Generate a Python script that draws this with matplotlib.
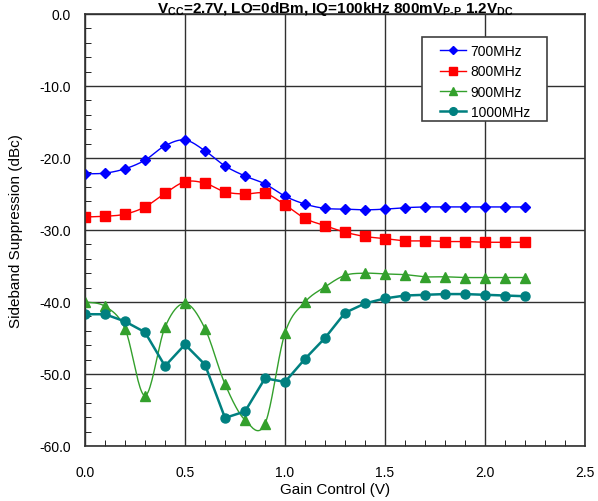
import numpy as np
import matplotlib
matplotlib.use("Agg")
import matplotlib.pyplot as plt
from matplotlib.patches import Rectangle
from matplotlib.ticker import MultipleLocator

plt.rcParams['font.family'] = ['Liberation Sans', 'DejaVu Sans']
plt.rcParams['mathtext.fontset'] = 'custom'
plt.rcParams['mathtext.rm'] = 'Liberation Sans'
plt.rcParams['mathtext.bf'] = 'Liberation Sans:bold'

# gain control (V)
gain = [0.0, 0.1, 0.2, 0.3, 0.4, 0.5, 0.6, 0.7, 0.8, 0.9, 1.0, 1.1,
        1.2, 1.3, 1.4, 1.5, 1.6, 1.7, 1.8, 1.9, 2.0, 2.1, 2.2]

# sideband suppression (dBc)
s700 = [-22.2, -22.1, -21.5, -20.3, -18.3, -17.5, -19.0, -21.1, -22.5, -23.6, -25.3, -26.4,
        -27.0, -27.1, -27.2, -27.1, -26.9, -26.8, -26.8, -26.8, -26.8, -26.8, -26.8]
s800 = [-28.2, -28.1, -27.8, -26.8, -24.9, -23.3, -23.5, -24.7, -25.0, -24.9, -26.5, -28.4,
        -29.4, -30.3, -30.9, -31.2, -31.5, -31.5, -31.6, -31.6, -31.7, -31.7, -31.7]
s900 = [-40.0, -40.6, -43.7, -53.0, -43.5, -40.2, -43.7, -51.4, -56.4, -56.9, -44.3, -40.0,
        -37.9, -36.3, -36.0, -36.1, -36.2, -36.5, -36.5, -36.6, -36.6, -36.6, -36.6]
s1000 = [-41.7, -41.7, -42.7, -44.2, -48.9, -45.9, -48.7, -56.1, -55.2, -50.6, -51.1, -47.9,
         -45.0, -41.5, -40.2, -39.5, -39.1, -39.0, -38.9, -38.9, -39.0, -39.1, -39.2]

labels = ["700MHz", "800MHz", "900MHz", "1000MHz"]


def smooth(x, y, n=20):
    # catmull-rom curve through the points, like a smoothed spreadsheet line
    x = np.asarray(x, float)
    y = np.asarray(y, float)
    px = np.concatenate([[x[0]], x, [x[-1]]])
    py = np.concatenate([[y[0]], y, [y[-1]]])
    xs, ys = [], []
    t = np.linspace(0, 1, n, endpoint=False)
    for i in range(1, len(px) - 2):
        for p, out in ((px, xs), (py, ys)):
            p0, p1, p2, p3 = p[i - 1], p[i], p[i + 1], p[i + 2]
            out.extend(0.5 * (2 * p1 + (-p0 + p2) * t
                              + (2 * p0 - 5 * p1 + 4 * p2 - p3) * t ** 2
                              + (-p0 + 3 * p1 - 3 * p2 + p3) * t ** 3))
    xs.append(x[-1])
    ys.append(y[-1])
    return xs, ys


fig = plt.figure(figsize=(5.98, 5.02), dpi=100)
ax = fig.add_axes([85 / 598, 1 - 447 / 502, 500 / 598, 432 / 502])

styles = [
    (s700, "#0000FF", "D", 5, 1.0, True),
    (s800, "#FF0000", "s", 6.5, 1.0, True),
    (s900, "#33A02C", "^", 6.5, 1.0, True),
    (s1000, "#008080", "o", 6.5, 1.8, False),
]
for (vals, col, mk, ms, lw, sm), lab in zip(styles, labels):
    if sm:
        xs, ys = smooth(gain, vals)
    else:
        xs, ys = gain, vals
    ax.plot(xs, ys, color=col, lw=lw)
    ax.plot(gain, vals, color=col, lw=0, marker=mk, ms=ms)
    ax.plot([], [], color=col, lw=lw, marker=mk, ms=ms * 0.85, label=lab)

ax.set_xlim(0, 2.5)
ax.set_ylim(-60, 0)
ax.xaxis.set_major_locator(MultipleLocator(0.5))
ax.xaxis.set_minor_locator(MultipleLocator(0.1))
ax.yaxis.set_major_locator(MultipleLocator(10))
ax.yaxis.set_minor_locator(MultipleLocator(2))
ax.xaxis.set_major_formatter(plt.FormatStrFormatter('%.1f'))
ax.yaxis.set_major_formatter(plt.FormatStrFormatter('%.1f'))
ax.tick_params(which='both', direction='in', labelsize=10, color='black')
ax.tick_params(which='major', length=0)
ax.tick_params(axis='x', which='major', pad=14)
ax.tick_params(axis='y', which='major', pad=10)
ax.tick_params(which='minor', length=4)
ax.grid(True, which='major', color='#303030', lw=1)
for sp in ax.spines.values():
    sp.set_color('#303030')
    sp.set_linewidth(1.2)

ax.set_xlabel("Gain Control (V)", fontsize=11)
ax.set_ylabel("Sideband Suppression (dBc)", fontsize=11)
ax.xaxis.set_label_coords(0.5, -36 / 432)
ax.yaxis.set_label_coords(-62 / 500, 0.5)
fig.text(335 / 598, 1 - 13 / 502,
         r"$\mathbf{V_{CC}}$=2.7V, LO=0dBm, IQ=100kHz 800mV$\mathbf{_{P\text{-}P}}$ 1.2V$\mathbf{_{DC}}$",
         ha='center', va='baseline', fontsize=11, fontweight='bold')

# legend box, wider than the entries
ax.add_patch(Rectangle((0.674, 0.7523), 0.25, 0.1945, transform=ax.transAxes,
                       facecolor='white', edgecolor='#404040', lw=1.2, zorder=4.5))
leg = ax.legend(loc='upper left', bbox_to_anchor=(0.71, 0.93),
                fontsize=10, frameon=False, borderpad=0, borderaxespad=0,
                handlelength=1.9, handletextpad=0.3, labelspacing=0.45)
leg.set_zorder(5)

plt.savefig("out.png", dpi=100)
plt.close("all")
